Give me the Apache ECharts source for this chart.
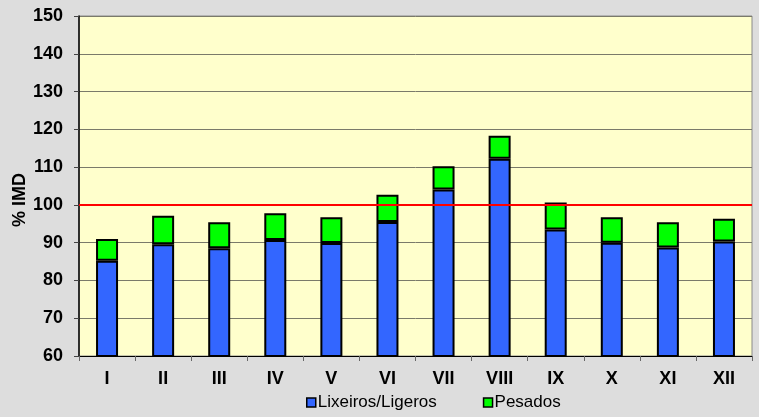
<!DOCTYPE html>
<html>
<head>
<meta charset="utf-8">
<script src="https://cdn.jsdelivr.net/npm/echarts@6/dist/echarts.min.js"></script>
<style>
  html, body { margin: 0; padding: 0; background: #dddddd; }
  #chart { width: 759px; height: 417px; }
</style>
</head>
<body>
<div id="chart"></div>
<script>
// Monthly index (% IMD), split into light and heavy vehicles
const months = ['I', 'II', 'III', 'IV', 'V', 'VI', 'VII', 'VIII', 'IX', 'X', 'XI', 'XII'];
const ligeros = [85.2, 89.6, 88.5, 90.7, 89.9, 95.5, 104.1, 112.2, 93.5, 90.0, 88.7, 90.3];
const pesados = [5.8, 7.5, 6.9, 7.1, 6.8, 7.2, 6.1, 6.1, 7.1, 6.7, 6.7, 6.0];
const referenceLevel = 100;
const seriesNames = ['Lixeiros/Ligeros', 'Pesados'];

const chart = echarts.init(document.getElementById('chart'), null, { renderer: 'canvas' });
const font = 'Arial, "Liberation Sans", sans-serif';

chart.setOption({
  backgroundColor: '#dddddd',
  animation: false,
  grid: {
    left: 79, right: 7, top: 16, bottom: 61,
    outerBoundsMode: 'none',
    containLabel: false,
    show: true,
    backgroundColor: '#ffffcc',
    borderColor: '#8a8a8a',
    borderWidth: 1
  },
  legend: {
    data: seriesNames,
    bottom: 1,
    left: 301,
    itemWidth: 9,
    itemHeight: 9,
    itemGap: 46,
    icon: 'rect',
    itemStyle: { borderColor: '#000', borderWidth: 1.5 },
    textStyle: { fontFamily: font, fontSize: 17, color: '#000', padding: [0, 0, 0, -3] }
  },
  xAxis: {
    type: 'category',
    data: months,
    axisLine: { lineStyle: { color: '#000', width: 1 } },
    axisTick: { show: true, length: 5, lineStyle: { color: '#666' }, alignWithLabel: false },
    axisLabel: { fontFamily: font, fontSize: 18, fontWeight: 'bold', color: '#000', margin: 14 }
  },
  yAxis: {
    type: 'value',
    min: 60, max: 150, interval: 10,
    name: '% IMD',
    nameLocation: 'middle',
    nameGap: 50,
    nameRotate: 90,
    nameMoveOverlap: false,
    nameTextStyle: { fontFamily: font, fontSize: 18, fontWeight: 'bold', color: '#000', padding: [0, 28, 0, 0] },
    axisLine: { show: true, lineStyle: { color: '#000', width: 1.5 } },
    axisTick: { show: true, length: 5, lineStyle: { color: '#444' } },
    axisLabel: { fontFamily: font, fontSize: 18, fontWeight: 'bold', color: '#000', margin: 16 },
    splitLine: { lineStyle: { color: '#7a7a6a', width: 1 } }
  },
  series: [
    {
      name: seriesNames[0],
      type: 'bar',
      stack: 'total',
      barWidth: 22,
      data: ligeros,
      itemStyle: { color: '#3366ff', borderColor: '#000', borderWidth: 2 },
      markLine: {
        silent: true,
        symbol: 'none',
        label: { show: false },
        lineStyle: { color: '#ff0000', width: 2, type: 'solid' },
        data: [{ yAxis: referenceLevel }]
      }
    },
    {
      name: seriesNames[1],
      type: 'bar',
      stack: 'total',
      barWidth: 22,
      data: pesados,
      itemStyle: { color: '#00ff00', borderColor: '#000', borderWidth: 2 }
    }
  ]
});
</script>
</body>
</html>
